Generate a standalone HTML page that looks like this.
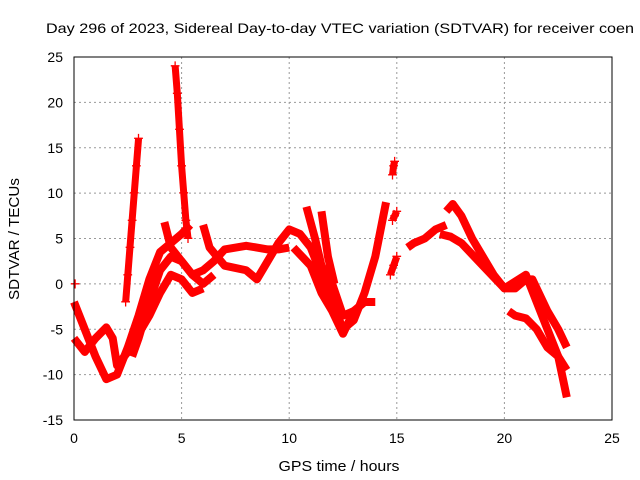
<!DOCTYPE html>
<html><head><meta charset="utf-8"><style>
body{margin:0;background:#fff;}
svg{display:block;font-family:"Liberation Sans",sans-serif;font-size:14px;}
</style></head><body>
<svg id="chart" width="640" height="480">
<text x="46" y="33" font-size="14" textLength="588" lengthAdjust="spacingAndGlyphs">Day 296 of 2023, Sidereal Day-to-day VTEC variation (SDTVAR) for receiver coen</text>
<text transform="translate(19,239) rotate(-90)" text-anchor="middle" font-size="15" textLength="122" lengthAdjust="spacingAndGlyphs">SDTVAR / TECUs</text>
<text x="339" y="471" text-anchor="middle" font-size="15" textLength="121" lengthAdjust="spacingAndGlyphs">GPS time / hours</text>
<g id="grid"></g><g id="marks"></g>
<rect x="74" y="57" width="538" height="363" fill="none" stroke="#000"/>
</svg>
<script>
const xTicks=[0,5,10,15,20,25];
const yTicks=[-15,-10,-5,0,5,10,15,20,25];
const track1X=[0,0.5,1,1.5,2,2.5,3,3.5,4,4.5,5,5.4];
const track1Y=[-2,-5,-8,-10.5,-10,-7,-3.5,0.5,3.5,4.5,5.5,6.5];
const track2X=[0,0.5,1,1.5,1.8,2,2.5,3,3.5,4,4.5,5,5.5,6];
const track2Y=[-6,-7.5,-6,-4.8,-6,-9,-7.5,-5.5,-3.5,-1,1,0.5,-1,-0.5];
const track3X=[2.7,3,3.5,4,4.5,5,5.5,6,6.5];
const track3Y=[-8,-6,-2,1.5,3,2.5,1,0,1];
const track4X=[4.2,4.5,5,5.5,6,6.5,7,8,9,9.5,10];
const track4Y=[6.8,4,2.5,1,1.5,2.5,3.8,4.2,3.8,3.8,4];
const track5X=[6,6.3,7,8,8.5,9,9.5,10,10.5,11,11.5,12,12.5,13,13.5,14,14.5];
const track5Y=[6.5,4,2,1.5,0.5,2.5,4.5,6,5.5,4,1,-2,-5,-4,-1,3,9];
const track6X=[10.2,11,11.5,12,12.5,13,13.5,14];
const track6Y=[4,2,-1,-3,-5.5,-3,-2,-2];
const track7X=[10.8,11.2,11.5,12,12.5,13];
const track7Y=[8.5,5,2,0,-3.5,-3];
const track8X=[11.5,11.8,12.1];
const track8Y=[8,3,0];
const track9X=[15.5,15.8,16.3,16.8,17.3];
const track9Y=[4,4.5,5,6,6.5];
const track10X=[17.3,17.6,18,18.5,19,19.5,20,20.5,21,21.3,21.6,22,22.5,22.9];
const track10Y=[8,8.8,7.5,5,3,1,-0.5,-0.5,0.5,0.5,-1,-3,-5,-7];
const track11X=[17,17.5,18,19,20,21,21.5,22,22.5,22.9];
const track11Y=[5.5,5.2,4.5,2,-0.5,1,-2,-5,-8,-12.5];
const track12X=[20.2,20.5,21,21.5,22,22.5,22.9];
const track12Y=[-3,-3.5,-3.8,-5,-7,-8,-9.5];
const spike1X=[2.4,2.5,2.6,2.7,2.8,2.9,3.0];
const spike1Y=[-2,1,4,7,10,13,16];
const spike2X=[4.7,4.8,4.9,5.0,5.1,5.2,5.3];
const spike2Y=[24,21,17,13,10,7,5];
const spike3X=[14.8,14.85,14.9];
const spike3Y=[12,13,13.5];
const spike4X=[14.8,14.9,15];
const spike4Y=[7,7.5,8];
const spike5X=[14.7,14.85,15];
const spike5Y=[1,2,3];
const dotX=[0.05];
const dotY=[0];
const xs=v=>74+v*538/25, ys=v=>57+(25-v)*363/40;
const NS="http://www.w3.org/2000/svg";
const grid=document.getElementById('grid'), marks=document.getElementById('marks');
xTicks.forEach(t=>{
 const l=document.createElementNS(NS,'line');
 l.setAttribute('x1',xs(t));l.setAttribute('x2',xs(t));l.setAttribute('y1',57);l.setAttribute('y2',420);
 l.setAttribute('stroke',(t>0&&t<25)?'#999':'none');l.setAttribute('stroke-dasharray','2,3');
 
 
 grid.appendChild(l);
 const tx=document.createElementNS(NS,'text');
 tx.setAttribute('x',xs(t));tx.setAttribute('y',443);tx.setAttribute('text-anchor','middle');tx.textContent=t;
 
 
 grid.appendChild(tx);
});
yTicks.forEach(t=>{
 const l=document.createElementNS(NS,'line');
 l.setAttribute('x1',74);l.setAttribute('x2',612);l.setAttribute('y1',ys(t));l.setAttribute('y2',ys(t));
 l.setAttribute('stroke',(t>-15&&t<25)?'#999':'none');l.setAttribute('stroke-dasharray','2,3');
 
 
 grid.appendChild(l);
 const tx=document.createElementNS(NS,'text');
 tx.setAttribute('x',63);tx.setAttribute('y',ys(t)+5);tx.setAttribute('text-anchor','end');tx.textContent=t;
 
 
 grid.appendChild(tx);
});
const tracks=[[track1X,track1Y],[track2X,track2Y],[track3X,track3Y],[track4X,track4Y],[track5X,track5Y],[track6X,track6Y],[track7X,track7Y],[track8X,track8Y],[track9X,track9Y],[track10X,track10Y],[track11X,track11Y],[track12X,track12Y]];
tracks.forEach(([X,Y])=>{
 const p=document.createElementNS(NS,'polyline');
 p.setAttribute('points',X.map((x,i)=>xs(x)+','+ys(Y[i])).join(' '));
 p.setAttribute('fill','none');p.setAttribute('stroke','#f00');p.setAttribute('stroke-width','8');p.setAttribute('stroke-linejoin','round');
 
 
 marks.appendChild(p);
});
[[spike1X,spike1Y],[spike2X,spike2Y],[spike3X,spike3Y],[spike4X,spike4Y],[spike5X,spike5Y],[dotX,dotY]].forEach(([X,Y])=>{
 const p=document.createElementNS(NS,'polyline');
 p.setAttribute('points',X.map((x,i)=>xs(x)+','+ys(Y[i])).join(' '));
 p.setAttribute('fill','none');p.setAttribute('stroke','#f00');p.setAttribute('stroke-width','7');
 
 
 marks.appendChild(p);
 X.forEach((x,i)=>{
  const m=document.createElementNS(NS,'text');
  m.setAttribute('x',xs(x));m.setAttribute('y',ys(Y[i])+6);m.setAttribute('text-anchor','middle');m.setAttribute('fill','#f00');m.setAttribute('font-size','18');m.textContent='+';
  
  
  marks.appendChild(m);
 });
});
</script>
</body></html>
